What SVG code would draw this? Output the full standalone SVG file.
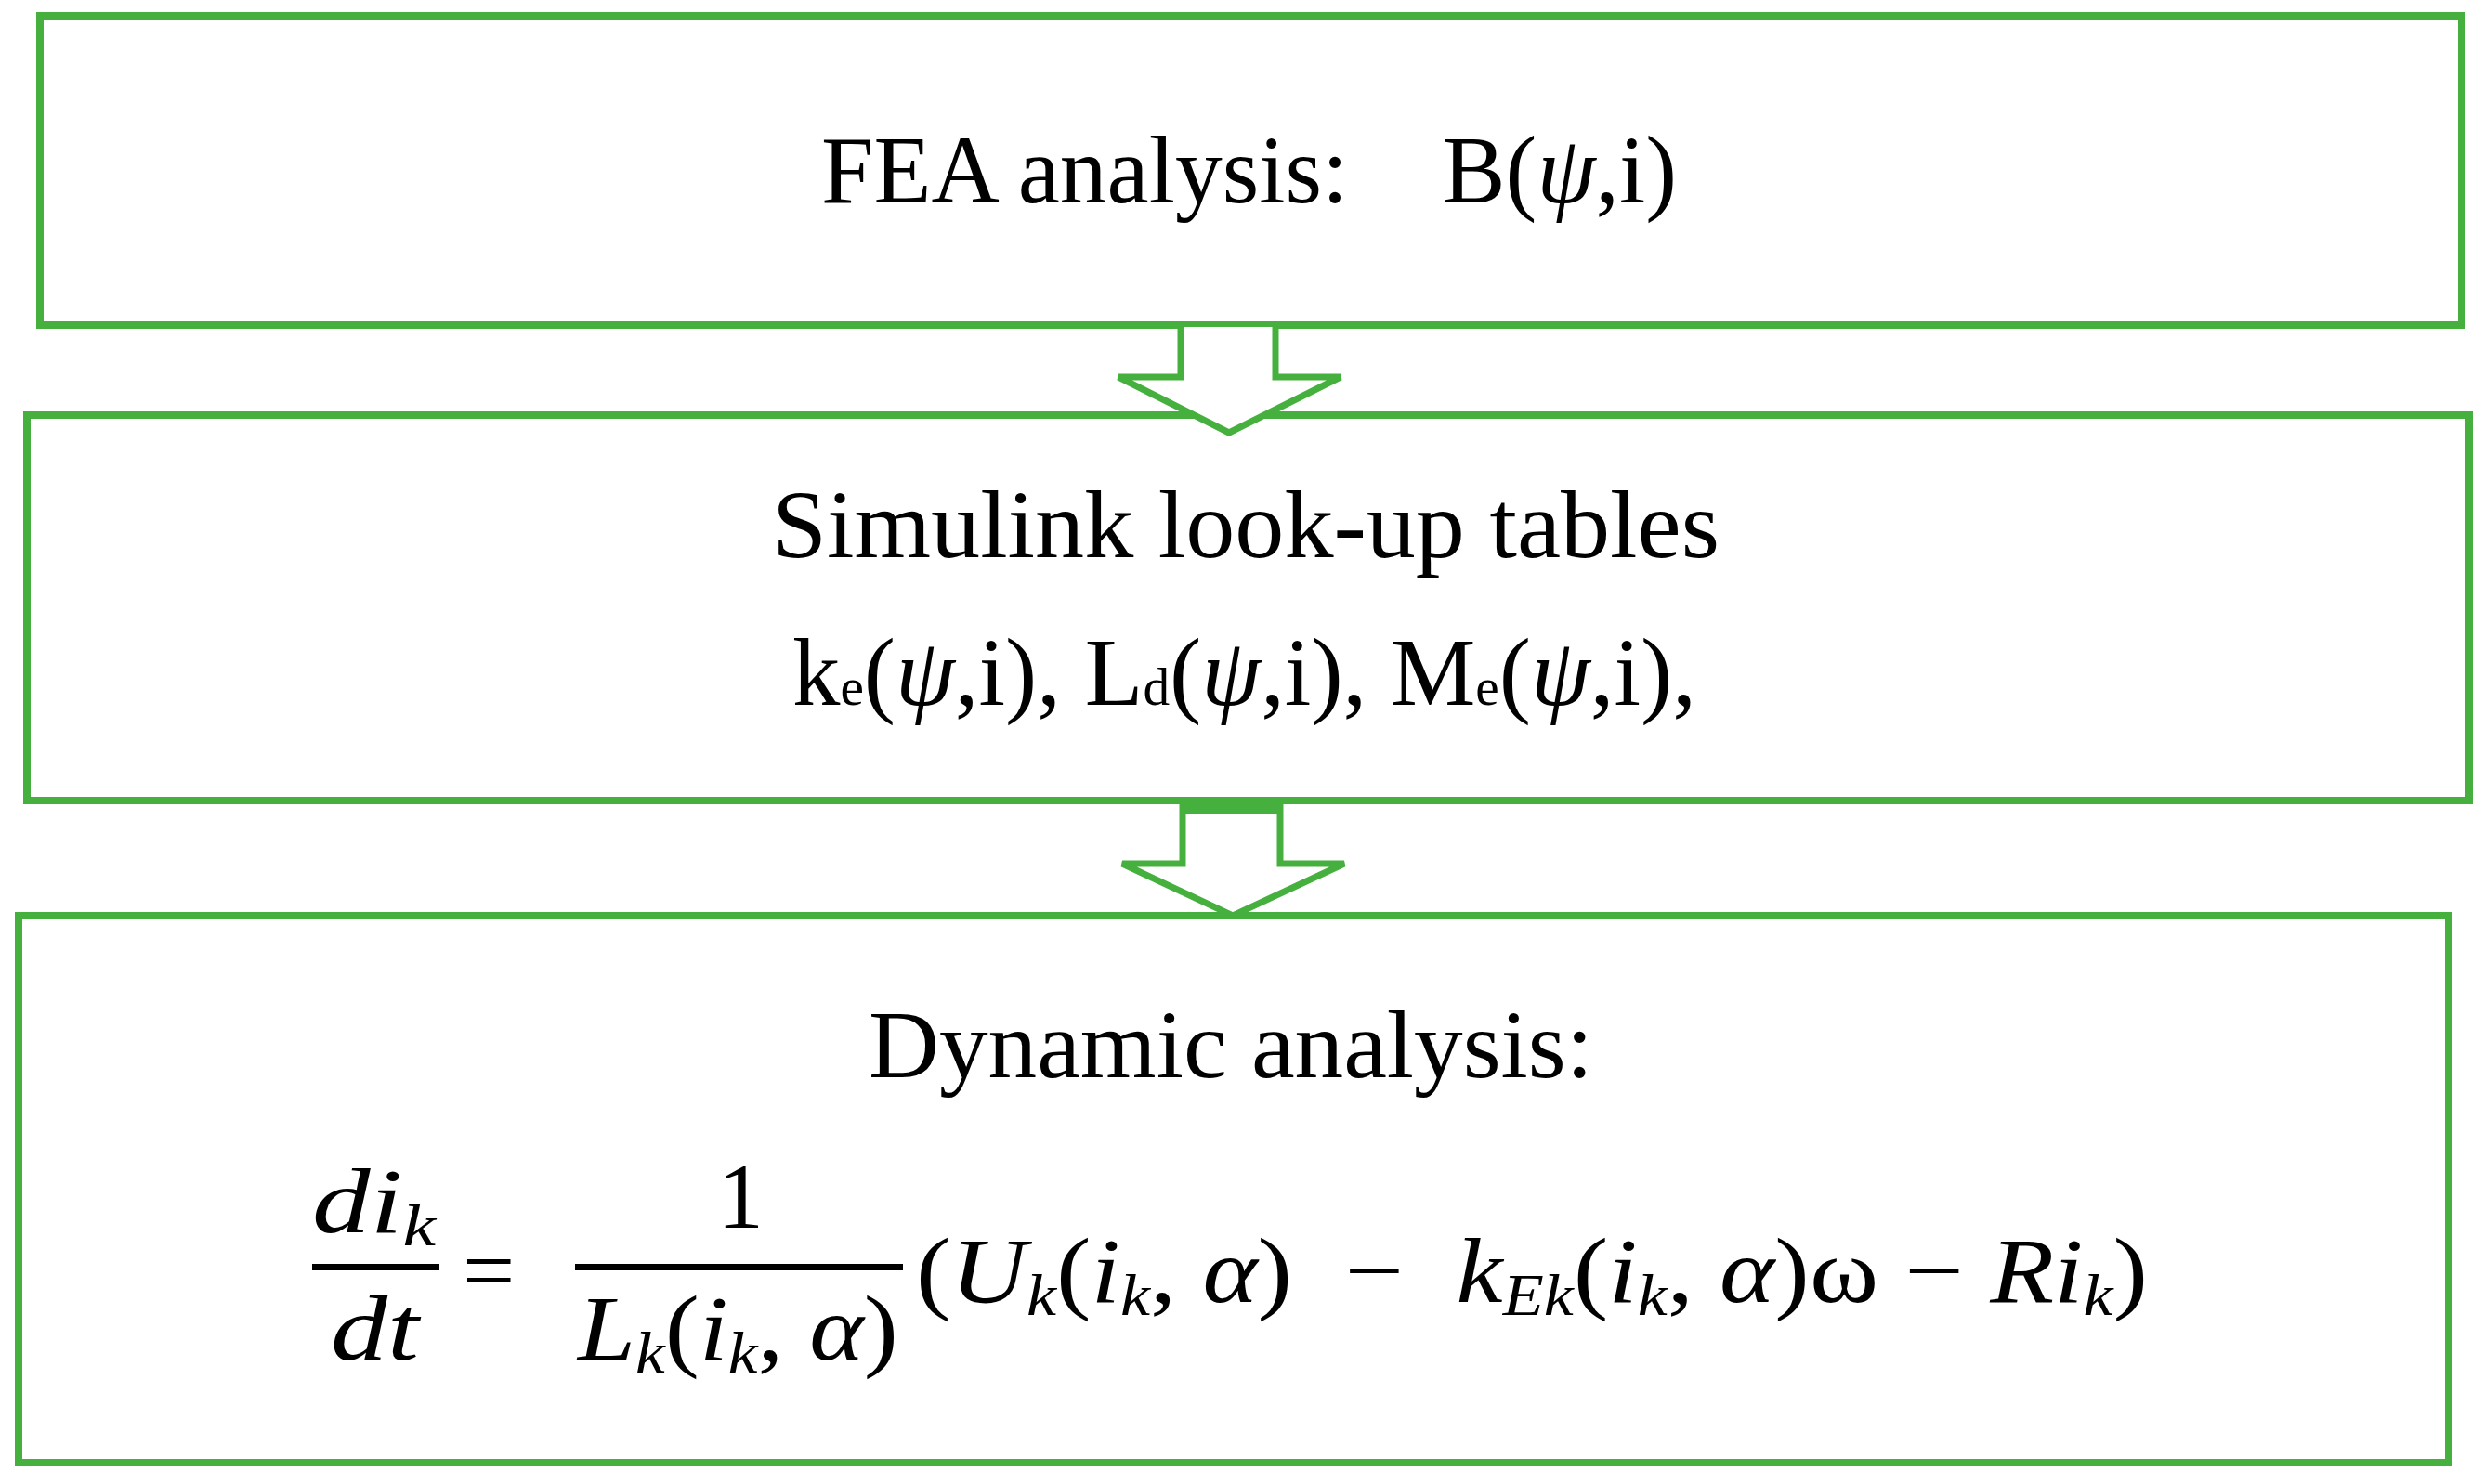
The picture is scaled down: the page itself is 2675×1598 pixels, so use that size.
<svg xmlns="http://www.w3.org/2000/svg" width="2675" height="1598" viewBox="0 0 2675 1598">
<style>
.box{fill:#fff;stroke:#46b03e;stroke-width:8}
.arr{fill:#fff;stroke:#46b03e;stroke-width:7;stroke-linejoin:miter}
text{font-family:"Liberation Serif","DejaVu Serif",serif;fill:#000}
.t{font-size:104px}
.m{font-size:100px;font-style:italic}
.s{font-size:64px;font-style:italic}
.u{font-size:100px}
</style>
<rect width="2675" height="1598" fill="#fff"/>
<g id="n1"><rect class="box" x="43" y="17" width="2607" height="333"/>
<text class="t" x="884" y="218" textLength="921" lengthAdjust="spacingAndGlyphs">FEA analysis:&#160;&#160;&#160; B(<tspan font-style="italic">ψ</tspan>,i)</text></g>
<g id="n2"><rect class="box" x="29" y="447" width="2629" height="415"/>
<text class="t" x="831" y="600" textLength="1020" lengthAdjust="spacingAndGlyphs">Simulink look-up tables</text>
<text class="t" x="853" y="759" textLength="973" lengthAdjust="spacingAndGlyphs">k<tspan font-size="58">e</tspan>(<tspan font-style="italic">ψ</tspan>,i), L<tspan font-size="58">d</tspan>(<tspan font-style="italic">ψ</tspan>,i), M<tspan font-size="58">e</tspan>(<tspan font-style="italic">ψ</tspan>,i),</text></g>
<g id="n3"><rect class="box" x="20" y="986" width="2616" height="589"/>
<text class="t" x="935" y="1160" textLength="780" lengthAdjust="spacingAndGlyphs">Dynamic analysis:</text>
<g id="eq">
<text class="m" x="336" y="1327" textLength="133" lengthAdjust="spacingAndGlyphs">di<tspan class="s" dy="14">k</tspan></text>
<rect x="336" y="1361" width="137" height="7" fill="#000"/>
<text class="m" x="356" y="1464" textLength="95" lengthAdjust="spacingAndGlyphs">dt</text>
<text class="u" x="498" y="1402" font-size="115">=</text>
<text class="u" x="772" y="1322">1</text>
<rect x="619" y="1361" width="353" height="7" fill="#000"/>
<text class="m" x="622" y="1464" textLength="345" lengthAdjust="spacingAndGlyphs">L<tspan class="s" dy="14">k</tspan><tspan dy="-14" font-style="normal">(</tspan>i<tspan class="s" dy="14">k</tspan><tspan dy="-14" font-style="normal">, </tspan>α<tspan font-style="normal">)</tspan></text>
<text class="m" x="986" y="1402" textLength="1326" lengthAdjust="spacingAndGlyphs"><tspan font-style="normal">(</tspan>U<tspan class="s" dy="14">k</tspan><tspan dy="-14" font-style="normal">(</tspan>i<tspan class="s" dy="14">k</tspan><tspan dy="-14" font-style="normal">, </tspan>α<tspan font-style="normal">)&#160; −&#160; </tspan>k<tspan class="s" dy="14">Ek</tspan><tspan dy="-14" font-style="normal">(</tspan>i<tspan class="s" dy="14">k</tspan><tspan dy="-14" font-style="normal">, </tspan>α<tspan font-style="normal">)ω − </tspan>Ri<tspan class="s" dy="14">k</tspan><tspan dy="-14" font-style="normal">)</tspan></text>
</g></g>
<g id="connectors">
<path class="arr" d="M1271 352 V406 H1204 L1323 466 L1443 406 H1373 V352"/>
<path class="arr" d="M1273 864 V930 H1208 L1327 986 L1447 930 H1378 V864"/>
<rect x="1273" y="862" width="105" height="14" fill="#46b03e"/>
</g>
</svg>
